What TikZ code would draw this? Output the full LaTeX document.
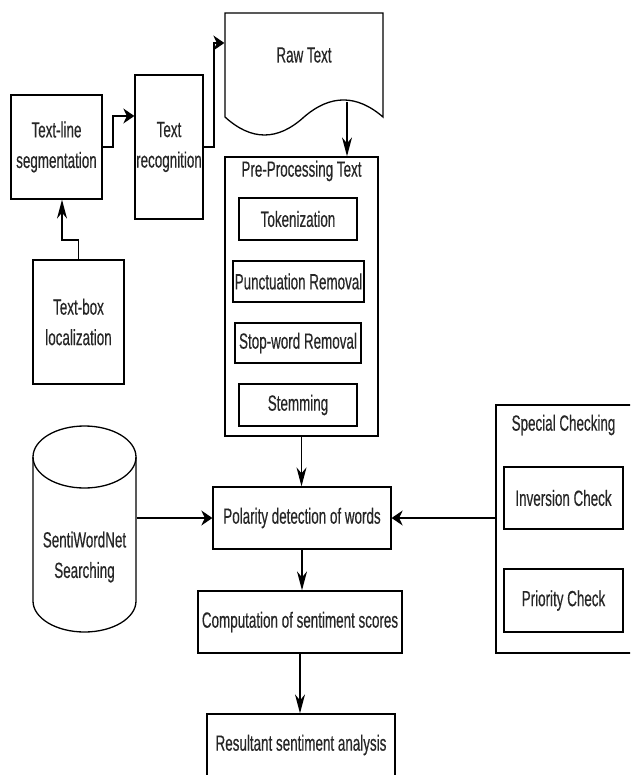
\documentclass[tikz,border=0pt]{standalone}
\usepackage{fontspec}
\setmainfont{Liberation Sans}[FakeStretch=0.61,FakeBold=0.4]
\usetikzlibrary{arrows.meta,calc}
\begin{document}
\begin{tikzpicture}[x=1pt,y=-1pt,line width=1.3pt,
  every node/.style={font=\fontsize{22}{30.5}\selectfont, text=black!85, align=center, inner sep=0pt},
  box/.style={draw, line width=1.3pt},
  ghost/.style={draw=none},
  harrow/.style={-{Stealth[length=11pt,width=15pt,inset=3.5pt]}},
  varrow/.style={-{Stealth[length=19pt,width=10pt,inset=6pt]}}]
\clip (0,0) rectangle (630,775);

% --- OCR stage ---
\node[box, minimum width=91pt, minimum height=104pt] (tls) at (56.5,147) {Text-line\\segmentation};
\node[box, minimum width=68pt, minimum height=144pt] (trec) at (169,147) {Text\\recognition};
\node[box, minimum width=91pt, minimum height=124pt] (tbl) at (78.5,322) {Text-box\\localization};

% --- raw text document ---
\draw (225,117) -- (225,13) -- (383,13) -- (383,117)
  .. controls (356.7,94.3) and (330.3,94.3) .. (304,117)
  .. controls (277.7,141) and (251.3,141) .. (225,117) -- cycle;
\node[ghost, minimum width=158pt, minimum height=104pt] (raw) at (304,65) {};
\node (rawlabel) at (304,55) {Raw Text};
\coordinate (rawout) at (347,102);

% --- pre-processing group ---
\node[box, minimum width=153pt, minimum height=279pt] (pre) at (301.5,296.5) {};
\node (pretitle) at (301.5,171) {Pre-Processing Text};
\node[box, minimum width=118pt, minimum height=42pt] (tok) at (298,219) {Tokenization};
\node[box, minimum width=131pt, minimum height=41pt] (punc) at (298.5,281.5) {Punctuation Removal};
\node[box, minimum width=126pt, minimum height=40pt] (stop) at (298,343) {Stop-word Removal};
\node[box, minimum width=118pt, minimum height=42pt] (stem) at (298,405) {Stemming};

% --- SentiWordNet database ---
\draw (84.5,457) ellipse [x radius=51.5, y radius=31];
\draw (33,457) -- (33,601) arc[start angle=180, end angle=0, x radius=51.5, y radius=31] -- (136,457);
\node[ghost, minimum width=103pt, minimum height=206pt] (cyl) at (84.5,529) {};
\node (cyllabel) at (84.5,557) {SentiWordNet\\Searching};

% --- scoring chain ---
\node[box, minimum width=178pt, minimum height=62pt] (pol) at (302,518) {Polarity detection of words};
\node[box, minimum width=204pt, minimum height=62pt] (comp) at (300,622) {Computation of sentiment scores};
\node[box, minimum width=188pt, minimum height=62pt] (res) at (301,745) {Resultant sentiment analysis};

% --- special checking group ---
\node[box, minimum width=136pt, minimum height=248pt] (spec) at (564,529) {};
\node (spectitle) at (563.5,425) {Special Checking};
\node[box, minimum width=119pt, minimum height=62pt] (inv) at (563.5,498) {Inversion Check};
\node[box, minimum width=119pt, minimum height=63pt] (pri) at (563.5,600.5) {Priority Check};

% --- connectors ---
\coordinate (a1) at (113,116);
\draw[harrow] (tls.east) -| (a1) -- (trec.west |- a1);
\coordinate (a2) at (214,43);
\draw[harrow] (trec.east) -| (a2) -- (raw.west |- a2);
\coordinate (a3) at (62,240);
\draw[varrow] (tbl.north) |- (a3) -- (tls.south -| a3);
\draw[varrow] (rawout) -- (pre.north -| rawout);
\draw[varrow] (pre.south) -- (pol.north -| pre.south);
\draw[harrow] (cyl.east |- pol.west) -- (pol.west);
\draw[harrow] (spec.west |- pol.east) -- (pol.east);
\draw[varrow] (pol.south) -- (comp.north -| pol.south);
\draw[varrow] (comp.south) -- (res.north -| comp.south);
\end{tikzpicture}
\end{document}
